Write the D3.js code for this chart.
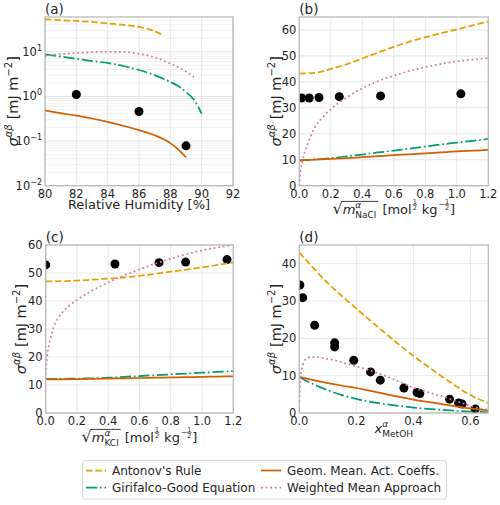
<!DOCTYPE html>
<html><head><meta charset="utf-8">
<script src="https://cdn.jsdelivr.net/npm/d3@7"></script>
<style>
body{margin:0;background:#fff}
svg{display:block}
text{font-family:"DejaVu Sans",sans-serif;fill:#262626}
</style></head>
<body><svg id="chart" width="500" height="505"></svg>
<script>
// ---------------- DATA ----------------
// Panel (a): Relative humidity [%] vs sigma (log scale)
const aAntonovX = [80,81,82,83,84,85,86,86.5,87,87.5];
const aAntonovY = [53,51,49,46.5,43,40,36,33,29,24];
const aGirifalcoX = [80,81,82,83,84,85,86,87,88,88.5,89,89.5,90];
const aGirifalcoY = [8.7,7.8,7.0,6.2,5.6,4.8,3.9,3.0,2.1,1.7,1.25,0.85,0.41];
const aGeomX = [80,81,82,83,84,85,86,87,88,88.5,89];
const aGeomY = [0.48,0.42,0.37,0.32,0.27,0.22,0.175,0.135,0.09,0.065,0.043];
const aWeightedX = [80,81,82,83,84,85,86,87,88,89,89.5];
const aWeightedY = [8.0,8.8,9.4,9.8,10.0,9.9,9.0,7.5,5.4,3.6,2.7];
const aDotsX = [82,86,89];
const aDotsY = [1.1,0.46,0.078];

// Panel (b): sqrt(m NaCl)
const bX = [0,0.1,0.2,0.3,0.4,0.5,0.6,0.7,0.8,0.9,1.0,1.1,1.2];
const bAntonovY = [43.2,43.5,45,46.8,49,51.3,53.5,55.5,57.2,58.8,60.2,61.8,63.2];
const bGirifalcoY = [9.8,10.1,10.6,11.3,12.0,12.8,13.5,14.3,15.1,15.9,16.6,17.3,18.0];
const bGeomY = [9.8,10.0,10.3,10.6,11.0,11.4,11.8,12.1,12.5,12.8,13.2,13.5,13.8];
const bWeightedX = [0,0.005,0.01,0.02,0.03,0.05,0.075,0.1,0.15,0.2,0.3,0.4,0.5,0.6,0.7,0.8,0.9,1.0,1.1,1.2];
const bWeightedY = [0,4,6.5,9.5,12,15.5,19.5,22.5,26.5,29.5,34,37.5,40.3,42.4,44.2,45.7,46.9,47.9,48.6,49.1];
const bDotsX = [0.015,0.063,0.125,0.254,0.516,1.026];
const bDotsY = [33.8,33.8,34.0,34.3,34.6,35.4];

// Panel (c): sqrt(m KCl)
const cX = [0,0.1,0.2,0.3,0.4,0.5,0.6,0.7,0.8,0.9,1.0,1.1,1.2];
const cAntonovY = [47,47.1,47.3,47.6,48,48.4,49,49.7,50.5,51.2,52,52.9,53.8];
const cGirifalcoY = [12.2,12.2,12.3,12.4,12.6,12.9,13.2,13.5,13.8,14.1,14.4,14.7,15.0];
const cGeomY = [12.0,12.05,12.1,12.2,12.3,12.4,12.5,12.6,12.7,12.8,12.9,13.0,13.1];
const cWeightedX = [0,0.003,0.01,0.02,0.03,0.05,0.075,0.1,0.15,0.2,0.3,0.4,0.5,0.6,0.7,0.8,0.9,1.0,1.1,1.2];
const cWeightedY = [12,16,20.5,24,26.5,30.5,33.5,35.5,38.3,40.4,43.8,46.6,49.1,51.3,53.3,55.1,56.7,58.1,59.1,60.1];
const cDotsX = [0.0,0.443,0.725,0.895,1.16];
const cDotsY = [52.9,53.2,53.7,53.9,54.8];

// Panel (d): x MetOH
const dX = [0,0.05,0.1,0.15,0.2,0.25,0.3,0.35,0.4,0.45,0.5,0.55,0.6,0.663];
const dAntonovY = [43,38.8,34.8,31.3,28,24.7,21.5,18.3,15.3,12.5,9.8,7.2,4.8,2.7];
const dGirifalcoY = [9.6,7.7,6.1,4.8,3.8,3.0,2.4,1.9,1.45,1.1,0.85,0.6,0.4,0.2];
const dGeomY = [9.7,8.8,8.0,7.3,6.7,5.9,5.1,4.3,3.6,3.0,2.4,1.8,1.25,0.7];
const dWeightedX = [0,0.003,0.008,0.015,0.025,0.04,0.06,0.1,0.15,0.2,0.25,0.3,0.35,0.4,0.45,0.5,0.55,0.6,0.663];
const dWeightedY = [3,8,11.5,13.5,14.6,15,15,14.5,13.6,12.5,11.3,10,8.4,6.8,5.6,4.5,3.2,1.9,0.8];
const dDotsX = [0.002,0.012,0.054,0.124,0.124,0.191,0.25,0.284,0.367,0.413,0.423,0.527,0.559,0.571,0.617];
const dDotsY = [34.3,30.9,23.5,18.8,17.7,14.1,11.0,8.8,6.7,5.5,5.2,3.7,2.7,2.4,1.1];

const legendLabels = ["Antonov's Rule","Geom. Mean. Act. Coeffs.","Girifalco-Good Equation","Weighted Mean Approach"];
const legendKeys = ["antonov","geom","girifalco","weighted"];

// ---------------- STYLES ----------------
const LW = 1.75;
const styles = {
  antonov:  {color:"#E69F00", dash:`${3.7*LW},${1.6*LW}`},
  girifalco:{color:"#009E73", dash:`${6.4*LW},${1.6*LW},${1*LW},${1.6*LW}`},
  geom:     {color:"#D55E00", dash:null},
  weighted: {color:"#CC79A7", dash:`${1*LW},${1.65*LW}`}
};
const svg = d3.select("#chart");
const FS = 11.5;

// rich text helper: pieces placed left to right
function rich(parent, pieces, cx, cy, rotate) {
  const g = parent.append("g");
  let x = 0; let sqrtStart = null; const marks = [];
  const tmp = [];
  for (let i=0;i<pieces.length;i++) {
    const p = pieces[i];
    if (p.frac) {
      const fs = p.fs;
      const t1 = g.append("text").attr("x",x).attr("y",p.dy-fs*0.95).style("font-size",fs+"px").text(p.frac[0]);
      const t2 = g.append("text").attr("x",x).attr("y",p.dy).style("font-size",fs+"px").text(p.frac[1]);
      const w = Math.max(t1.node().getComputedTextLength(), t2.node().getComputedTextLength());
      t1.attr("x", x + (w - t1.node().getComputedTextLength())/2);
      t2.attr("x", x + (w - t2.node().getComputedTextLength())/2);
      g.append("line").attr("x1",x-0.3).attr("x2",x+w+0.3).attr("y1",p.dy-fs*0.82).attr("y2",p.dy-fs*0.82)
        .attr("stroke","#262626").attr("stroke-width",0.6);
      x += w + (p.after||0);
      continue;
    }
    if (p.space) { x += p.space; continue; }
    if (p.sqrtOpen) { sqrtStart = {x:x, y:p.y}; continue; }
    if (p.sqrtClose) { marks.push({x1:sqrtStart.x, x2:x, y:sqrtStart.y}); continue; }
    const t = g.append("text").attr("x",x).attr("y",p.dy||0).style("font-size",(p.fs||FS)+"px").text(p.t);
    if (p.it) t.style("font-style","italic");
    const w = t.node().getComputedTextLength();
    if (p.stack) { tmp.push(w); continue; }
    if (tmp.length) { x += Math.max(w, ...tmp); tmp.length = 0; }
    else x += w;
    x += (p.after||0);
  }
  marks.forEach(m => g.append("line").attr("x1",m.x1-1).attr("x2",m.x2+1).attr("y1",m.y).attr("y2",m.y)
     .attr("stroke","#262626").attr("stroke-width",0.9));
  const W = x;
  g.attr("transform", `translate(${cx},${cy}) rotate(${rotate||0}) translate(${-W/2},0)`);
  return g;
}

const ylabPieces = [
  {t:"σ", fs:14.5, it:true},
  {t:"αβ", fs:10, it:true, dy:-6},
  {space:5},
  {t:"[mJ", fs:14.5},
  {space:4.5},
  {t:"m", fs:14.5},
  {t:"−2", fs:10, dy:-6.5},
  {t:"]", fs:14.5}
];
function sqrtPieces(sub) {
  return [
    {t:"√", fs:16},
    {sqrtOpen:true, y:-12.6},
    {t:"m", fs:13, it:true},
    {t:"α", fs:9, it:true, dy:-6, stack:true},
    {t:sub, fs:9, dy:3.5, after:1},
    {sqrtClose:true},
    {space:5},
    {t:"[mol", fs:13, after:1},
    {frac:["1","2"], fs:6.5, dy:-4, after:1},
    {space:4},
    {t:"kg", fs:13, after:1},
    {t:"−", fs:7.5, dy:-7.2},
    {frac:["1","2"], fs:6.5, dy:-4, after:1},
    {t:"]", fs:13}
  ];
}

function panel(cfg) {
  const g = svg.append("g");
  const {x0,x1,y0,y1} = cfg;
  const xs = d3.scaleLinear().domain(cfg.xDomain).range([x0,x1]);
  const ys = (cfg.log ? d3.scaleLog() : d3.scaleLinear()).domain(cfg.yDomain).range([y1,y0]);
  const id = "clip"+cfg.name;
  svg.append("clipPath").attr("id",id).append("rect").attr("x",x0).attr("y",y0).attr("width",x1-x0).attr("height",y1-y0);
  // grid
  const grid = g.append("g");
  if (cfg.log) {
    const minor = [];
    for (let e=-2;e<=1;e++) for (let k=2;k<=9;k++) { const v=k*Math.pow(10,e); if (v<cfg.yDomain[1]) minor.push(v); }
    grid.selectAll(".mn").data(minor).join("line").attr("x1",x0).attr("x2",x1)
      .attr("y1",d=>ys(d)).attr("y2",d=>ys(d)).attr("stroke","#eeeeee").attr("stroke-width",0.8);
  }
  grid.selectAll(".gy").data(cfg.yTicks).join("line").attr("x1",x0).attr("x2",x1)
    .attr("y1",d=>ys(d)).attr("y2",d=>ys(d)).attr("stroke","#e6e6e6").attr("stroke-width",1);
  grid.selectAll(".gx").data(cfg.xTicks).join("line").attr("y1",y0).attr("y2",y1)
    .attr("x1",d=>xs(d)).attr("x2",d=>xs(d)).attr("stroke","#e6e6e6").attr("stroke-width",1);
  // dots
  const pts = cfg.dotsX.map((x,i)=>[x,cfg.dotsY[i]]);
  g.append("g").attr("clip-path",`url(#${id})`).selectAll("circle").data(pts).join("circle")
    .attr("cx",d=>xs(d[0])).attr("cy",d=>ys(d[1])).attr("r",4.5).attr("fill","#000");
  // lines
  const line = d3.line().x(d=>xs(d[0])).y(d=>ys(d[1])).curve(d3.curveMonotoneX);
  const lg = g.append("g").attr("clip-path",`url(#${id})`);
  cfg.series.forEach(s => {
    const data = s.x.map((x,i)=>[x,s.y[i]]);
    const st = styles[s.key];
    lg.append("path").attr("d",line(data)).attr("fill","none").attr("stroke",st.color)
      .attr("stroke-width",LW).attr("stroke-dasharray",st.dash);
  });
  // frame
  g.append("rect").attr("x",x0).attr("y",y0).attr("width",x1-x0).attr("height",y1-y0)
    .attr("fill","none").attr("stroke","#b5b5b5").attr("stroke-width",1.2);
  // tick labels
  g.selectAll(".xt").data(cfg.xTicks).join("text").attr("x",d=>xs(d)).attr("y",y1+12)
    .attr("text-anchor","middle").style("font-size",FS+"px").text(cfg.xFmt);
  if (cfg.log) {
    cfg.yTicks.forEach(v => {
      const t = g.append("text").attr("x",x0-3).attr("y",ys(v)+4).attr("text-anchor","end").style("font-size",FS+"px");
      t.append("tspan").text("10");
      t.append("tspan").attr("dy",-5).style("font-size","8px").text(String(Math.round(Math.log10(v))).replace("-","−"));
    });
  } else {
    g.selectAll(".yt").data(cfg.yTicks).join("text").attr("x",x0-3).attr("y",d=>ys(d)+4)
      .attr("text-anchor","end").style("font-size",FS+"px").text(d=>d);
  }
  // panel title
  g.append("text").attr("x",x0).attr("y",y0-3).style("font-size","13.5px").text(cfg.title);
  // y label
  rich(g, ylabPieces, cfg.ylabX, (y0+y1)/2, -90);
  // x label
  cfg.xlab(g, (x0+x1)/2);
}

panel({name:"a", x0:45, x1:233, y0:17, y1:185.7, xDomain:[80,92], yDomain:[0.01,60], log:true,
  xTicks:[80,82,84,86,88,90,92], yTicks:[0.01,0.1,1,10], xFmt:d=>d, title:"(a)", ylabX:18,
  dotsX:aDotsX, dotsY:aDotsY,
  series:[{key:"antonov",x:aAntonovX,y:aAntonovY},{key:"girifalco",x:aGirifalcoX,y:aGirifalcoY},
          {key:"geom",x:aGeomX,y:aGeomY},{key:"weighted",x:aWeightedX,y:aWeightedY}],
  xlab:(g,cx)=>g.append("text").attr("x",cx).attr("y",209).attr("text-anchor","middle").style("font-size","13px").text("Relative Humidity [%]")
});
panel({name:"b", x0:299.3, x1:488.3, y0:17, y1:185.7, xDomain:[0,1.2], yDomain:[0,65], log:false,
  xTicks:[0,0.2,0.4,0.6,0.8,1.0,1.2], yTicks:[0,10,20,30,40,50,60], xFmt:d=>d.toFixed(1), title:"(b)", ylabX:281,
  dotsX:bDotsX, dotsY:bDotsY,
  series:[{key:"antonov",x:bX,y:bAntonovY},{key:"girifalco",x:bX,y:bGirifalcoY},
          {key:"geom",x:bX,y:bGeomY},{key:"weighted",x:bWeightedX,y:bWeightedY}],
  xlab:(g,cx)=>rich(g, sqrtPieces("NaCl"), cx, 214, 0)
});
panel({name:"c", x0:45.7, x1:233.3, y0:245, y1:413, xDomain:[0,1.2], yDomain:[0,60], log:false,
  xTicks:[0,0.2,0.4,0.6,0.8,1.0,1.2], yTicks:[0,10,20,30,40,50,60], xFmt:d=>d.toFixed(1), title:"(c)", ylabX:26,
  dotsX:cDotsX, dotsY:cDotsY,
  series:[{key:"antonov",x:cX,y:cAntonovY},{key:"girifalco",x:cX,y:cGirifalcoY},
          {key:"geom",x:cX,y:cGeomY},{key:"weighted",x:cWeightedX,y:cWeightedY}],
  xlab:(g,cx)=>rich(g, sqrtPieces("KCl"), cx, 442, 0)
});
panel({name:"d", x0:299.3, x1:488.3, y0:245, y1:413, xDomain:[0,0.663], yDomain:[0,45], log:false,
  xTicks:[0,0.2,0.4,0.6], yTicks:[0,10,20,30,40], xFmt:d=>d.toFixed(1), title:"(d)", ylabX:281,
  dotsX:dDotsX, dotsY:dDotsY,
  series:[{key:"antonov",x:dX,y:dAntonovY},{key:"girifalco",x:dX,y:dGirifalcoY},
          {key:"geom",x:dX,y:dGeomY},{key:"weighted",x:dWeightedX,y:dWeightedY}],
  xlab:(g,cx)=>rich(g, [{t:"x",fs:13,it:true},{t:"α",fs:9,it:true,dy:-6,stack:true},{t:"MetOH",fs:9,dy:3.5}], cx, 433, 0)
});

// ---------------- LEGEND ----------------
const leg = svg.append("g");
leg.append("rect").attr("x",82.5).attr("y",460.5).attr("width",364).attr("height",38.5).attr("rx",3)
  .attr("fill","#fff").attr("stroke","#d9d9d9").attr("stroke-width",1);
legendKeys.forEach((k,i)=>{
  const col = i%2, row = Math.floor(i/2);
  const sx = col===0 ? 86 : 261;
  const ly = row===0 ? 470.5 : 487.5;
  const st = styles[k];
  leg.append("line").attr("x1",sx).attr("x2",sx+20).attr("y1",ly).attr("y2",ly)
    .attr("stroke",st.color).attr("stroke-width",LW).attr("stroke-dasharray",st.dash);
  leg.append("text").attr("x",sx+26).attr("y",ly+4.3).style("font-size","12px").text(legendLabels[i]);
});
</script></body></html>
